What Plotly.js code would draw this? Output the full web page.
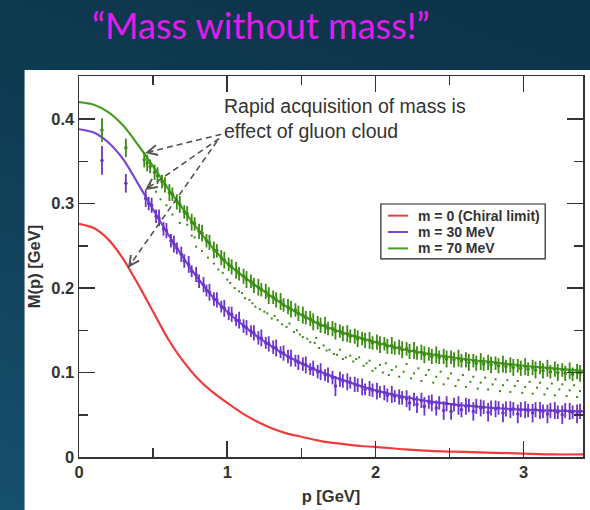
<!DOCTYPE html>
<html>
<head>
<meta charset="utf-8">
<script src="https://cdn.plot.ly/plotly-3.0.1.min.js"></script>
<style>
html,body{margin:0;padding:0;}
body{width:590px;height:510px;overflow:hidden;background:linear-gradient(200deg,#0c3247 0%,#0f3c53 45%,#16506e 100%);}
#chart{width:590px;height:510px;}
</style>
</head>
<body>
<div id="chart"></div>
<script>
// ---- curves (DSE solutions) ----
const curveP = [0,0.1,0.2,0.3,0.4,0.5,0.6,0.7,0.8,0.9,1.0,1.1,1.2,1.3,1.4,1.5,1.6,1.7,1.8,1.9,2.0,2.2,2.4,2.6,2.8,3.0,3.2,3.4];
const chiralM = [0.276,0.271,0.257,0.234,0.204,0.172,0.140,0.114,0.093,0.077,0.064,0.052,0.042,0.034,0.028,0.024,0.020,0.017,0.015,0.013,0.012,0.009,0.007,0.006,0.005,0.004,0.003,0.003];
const m30M = [0.388,0.384,0.372,0.352,0.323,0.293,0.264,0.237,0.212,0.190,0.172,0.157,0.143,0.131,0.120,0.111,0.103,0.096,0.090,0.084,0.079,0.071,0.065,0.061,0.058,0.056,0.055,0.054];
const m70M = [0.420,0.417,0.408,0.392,0.369,0.344,0.318,0.294,0.270,0.248,0.229,0.215,0.202,0.190,0.178,0.168,0.159,0.152,0.146,0.141,0.136,0.127,0.121,0.116,0.112,0.108,0.105,0.102];
const seriesNames = ["m = 0 (Chiral limit)","m = 30 MeV","m = 70 MeV"];

// ---- lattice data, m = 30 MeV ----
const lat30P = [0.155,0.316,0.45,0.47,0.49,0.52,0.54,0.57,0.59,0.62,0.64,0.66,0.69,0.71,0.74,0.76,0.79,0.81,0.84,0.86,0.88,0.91,0.93,0.96,0.98,1.01,1.03,1.06,1.08,1.11,1.13,1.16,1.18,1.21,1.23,1.26,1.28,1.31,1.33,1.36,1.38,1.41,1.43,1.46,1.48,1.51,1.53,1.56,1.58,1.61,1.63,1.66,1.68,1.71,1.73,1.76,1.78,1.81,1.83,1.86,1.88,1.91,1.93,1.96,1.98,2.01,2.03,2.06,2.08,2.11,2.13,2.16,2.18,2.21,2.23,2.26,2.28,2.31,2.33,2.36,2.38,2.41,2.43,2.46,2.48,2.51,2.53,2.56,2.58,2.61,2.63,2.66,2.68,2.71,2.73,2.76,2.78,2.81,2.83,2.86,2.88,2.91,2.93,2.96,2.98,3.01,3.03,3.06,3.08,3.11,3.13,3.16,3.18,3.21,3.23,3.26,3.28,3.31,3.33,3.36,3.38];
const lat30M = [0.351,0.324,0.306,0.300,0.298,0.285,0.283,0.270,0.268,0.256,0.252,0.247,0.240,0.232,0.228,0.220,0.216,0.208,0.204,0.197,0.195,0.187,0.186,0.178,0.176,0.170,0.169,0.162,0.162,0.155,0.153,0.149,0.147,0.141,0.141,0.135,0.134,0.130,0.129,0.124,0.123,0.119,0.117,0.114,0.112,0.110,0.109,0.104,0.105,0.101,0.101,0.097,0.097,0.094,0.084,0.092,0.090,0.089,0.088,0.086,0.085,0.083,0.080,0.081,0.079,0.078,0.077,0.076,0.073,0.074,0.072,0.071,0.070,0.069,0.064,0.068,0.062,0.067,0.060,0.065,0.064,0.058,0.064,0.055,0.063,0.054,0.062,0.061,0.056,0.060,0.061,0.054,0.060,0.058,0.059,0.053,0.058,0.057,0.058,0.052,0.057,0.056,0.057,0.051,0.056,0.056,0.055,0.052,0.056,0.055,0.054,0.051,0.055,0.055,0.053,0.050,0.055,0.054,0.053,0.051,0.054];
const lat30E = [0.017,0.011,0.010,0.008,0.009,0.008,0.010,0.008,0.009,0.008,0.010,0.007,0.009,0.008,0.010,0.007,0.009,0.008,0.009,0.007,0.010,0.008,0.009,0.007,0.010,0.008,0.009,0.007,0.010,0.008,0.009,0.007,0.009,0.008,0.010,0.007,0.009,0.008,0.010,0.007,0.009,0.008,0.010,0.007,0.009,0.008,0.010,0.007,0.009,0.008,0.010,0.007,0.009,0.008,0.012,0.009,0.008,0.010,0.007,0.009,0.008,0.010,0.007,0.009,0.008,0.010,0.007,0.009,0.008,0.010,0.007,0.009,0.008,0.010,0.009,0.008,0.010,0.009,0.011,0.008,0.010,0.009,0.008,0.011,0.009,0.010,0.008,0.011,0.009,0.010,0.008,0.011,0.009,0.010,0.008,0.011,0.009,0.010,0.008,0.011,0.009,0.010,0.008,0.011,0.009,0.010,0.008,0.011,0.009,0.010,0.008,0.011,0.009,0.010,0.008,0.011,0.009,0.010,0.008,0.011,0.009];

// ---- lattice data, m = 70 MeV ----
const lat70P = [0.155,0.316,0.44,0.46,0.48,0.51,0.53,0.56,0.58,0.61,0.63,0.66,0.68,0.71,0.73,0.76,0.78,0.81,0.83,0.86,0.88,0.91,0.93,0.96,0.98,1.01,1.03,1.06,1.08,1.11,1.13,1.16,1.18,1.21,1.23,1.26,1.28,1.31,1.33,1.36,1.38,1.41,1.43,1.46,1.48,1.51,1.53,1.56,1.58,1.61,1.63,1.66,1.68,1.71,1.73,1.76,1.78,1.81,1.83,1.86,1.88,1.91,1.93,1.96,1.98,2.01,2.03,2.06,2.08,2.11,2.13,2.16,2.18,2.21,2.23,2.26,2.28,2.31,2.33,2.36,2.38,2.41,2.43,2.46,2.48,2.51,2.53,2.56,2.58,2.61,2.63,2.66,2.68,2.71,2.73,2.76,2.78,2.81,2.83,2.86,2.88,2.91,2.93,2.96,2.98,3.01,3.03,3.06,3.08,3.11,3.13,3.16,3.18,3.21,3.23,3.26,3.28,3.31,3.33,3.36,3.38];
const lat70M = [0.387,0.366,0.352,0.348,0.344,0.337,0.333,0.326,0.322,0.313,0.311,0.302,0.299,0.290,0.288,0.278,0.276,0.267,0.265,0.256,0.254,0.245,0.244,0.236,0.233,0.228,0.225,0.221,0.217,0.214,0.210,0.208,0.203,0.201,0.198,0.196,0.191,0.189,0.186,0.184,0.180,0.178,0.175,0.174,0.170,0.168,0.165,0.164,0.160,0.159,0.156,0.156,0.152,0.152,0.149,0.149,0.146,0.146,0.143,0.143,0.140,0.140,0.138,0.138,0.135,0.136,0.133,0.134,0.131,0.132,0.129,0.130,0.127,0.128,0.125,0.126,0.123,0.124,0.121,0.122,0.119,0.121,0.118,0.119,0.116,0.118,0.115,0.117,0.114,0.115,0.112,0.114,0.111,0.113,0.110,0.112,0.109,0.111,0.108,0.110,0.107,0.109,0.106,0.108,0.105,0.107,0.104,0.106,0.103,0.106,0.102,0.105,0.101,0.104,0.100,0.103,0.099,0.102,0.098,0.101,0.099];
const lat70E = [0.014,0.011,0.009,0.010,0.008,0.009,0.010,0.008,0.009,0.010,0.008,0.009,0.010,0.008,0.009,0.010,0.008,0.009,0.010,0.008,0.009,0.010,0.008,0.009,0.010,0.008,0.009,0.010,0.008,0.009,0.010,0.008,0.009,0.010,0.008,0.009,0.010,0.008,0.009,0.010,0.008,0.009,0.010,0.008,0.009,0.010,0.008,0.009,0.010,0.008,0.009,0.010,0.008,0.009,0.010,0.008,0.009,0.010,0.008,0.009,0.010,0.008,0.009,0.010,0.008,0.009,0.010,0.008,0.009,0.010,0.008,0.009,0.010,0.008,0.009,0.010,0.008,0.009,0.010,0.008,0.009,0.010,0.008,0.009,0.010,0.008,0.009,0.010,0.008,0.009,0.010,0.008,0.009,0.010,0.008,0.009,0.010,0.008,0.009,0.010,0.008,0.009,0.010,0.008,0.009,0.010,0.008,0.009,0.010,0.008,0.009,0.010,0.008,0.009,0.010,0.008,0.009,0.010,0.008,0.009,0.010];

// ---- second lattice set (dots, no error bars) ----
const dotP = [0.48,0.52,0.55,0.59,0.63,0.68,0.73,0.76,0.78,0.79,0.83,0.87,0.91,0.94,0.97,1.00,1.02,1.05,1.08,1.10,1.12,1.15,1.17,1.19,1.22,1.25,1.27,1.30,1.32,1.34,1.37,1.40,1.42,1.45,1.47,1.49,1.51,1.54,1.56,1.59,1.60,1.62,1.65,1.67,1.69,1.72,1.74,1.76,1.78,1.80,1.83,1.85,1.87,1.89,1.92,1.94,1.96,1.98,2.00,2.03,2.05,2.07,2.09,2.11,2.14,2.16,2.19,2.21,2.24,2.26,2.29,2.31,2.34,2.36,2.39,2.41,2.44,2.46,2.49,2.51,2.54,2.56,2.59,2.61,2.64,2.66,2.69,2.71,2.74,2.76,2.79,2.81,2.84,2.86,2.89,2.91,2.94,2.96,2.99,3.01,3.04,3.06,3.09,3.11,3.14,3.16,3.19,3.21,3.24,3.26,3.29,3.31,3.34,3.36,3.38];
const dotM = [0.323,0.314,0.305,0.298,0.287,0.277,0.275,0.262,0.260,0.249,0.244,0.236,0.229,0.222,0.218,0.210,0.206,0.200,0.196,0.194,0.188,0.186,0.182,0.178,0.175,0.172,0.170,0.164,0.167,0.162,0.157,0.154,0.158,0.148,0.150,0.145,0.142,0.140,0.136,0.135,0.141,0.129,0.132,0.126,0.127,0.122,0.121,0.127,0.116,0.118,0.120,0.113,0.116,0.118,0.108,0.111,0.114,0.102,0.105,0.109,0.100,0.111,0.097,0.103,0.107,0.095,0.101,0.110,0.093,0.099,0.105,0.090,0.097,0.103,0.088,0.095,0.101,0.086,0.093,0.099,0.084,0.091,0.097,0.083,0.089,0.095,0.081,0.088,0.094,0.080,0.086,0.092,0.078,0.085,0.091,0.077,0.084,0.090,0.076,0.083,0.089,0.075,0.082,0.088,0.074,0.081,0.087,0.073,0.080,0.086,0.072,0.079,0.085,0.071,0.078];

const RED = "#f03c3c", PURPLE = "#7b45d6", GREEN = "#46a028";
const PURPLE_D = "#6a35c8", GREEN_D = "#3a8c12";
const curveColors = [RED, PURPLE, GREEN];
const FONT = "Liberation Sans, Arial, sans-serif";

const traces = [
  {x: curveP, y: chiralM, mode: "lines", name: seriesNames[0], line: {color: RED, width: 2.2, shape: "spline", smoothing: 0.8}},
  {x: curveP, y: m30M, mode: "lines", name: seriesNames[1], line: {color: PURPLE, width: 2.2, shape: "spline", smoothing: 0.8}},
  {x: curveP, y: m70M, mode: "lines", name: seriesNames[2], line: {color: GREEN, width: 2.2, shape: "spline", smoothing: 0.8}},
  {x: dotP, y: dotM, mode: "markers", showlegend: false, marker: {color: GREEN_D, size: 2, symbol: "square"}},
  {x: lat30P, y: lat30M, mode: "markers", showlegend: false, marker: {color: PURPLE_D, size: 3.5},
   error_y: {type: "data", array: lat30E, color: PURPLE_D, thickness: 1.8, width: 0}},
  {x: lat70P, y: lat70M, mode: "markers", showlegend: false, marker: {color: GREEN_D, size: 3.5},
   error_y: {type: "data", array: lat70E, color: GREEN_D, thickness: 1.8, width: 0}}
];

const tickFont = {family: FONT, size: 16.5, color: "#333", weight: "bold"};
const axisCommon = {
  showgrid: false, zeroline: false, showline: true, linecolor: "#333", linewidth: 1.5,
  mirror: "ticks", ticks: "inside", ticklen: 16, tickwidth: 1.5, tickcolor: "#333",
  tickfont: tickFont
};

// arrows: tail near "effect", heads at the curves
const arrowTails = [[0.960, 0.382], [0.946, 0.377], [0.932, 0.374]];
const arrowHeads = [[0.446, 0.360], [0.446, 0.316], [0.331, 0.224]];
const arrowDirs = [[7.8, -1.8], [6.5, -4.7], [4.6, -6.6]];

const shapes = [
  {type: "rect", xref: "paper", yref: "paper", x0: -0.108, x1: 1.02, y0: -0.15, y1: 1.016,
   fillcolor: "#ffffff", line: {width: 0}, layer: "below"}
];
const annotations = [
  {xref: "x", yref: "y", x: 0.962, y: 0.416, text: "Rapid acquisition of mass is", showarrow: false,
   xanchor: "left", yanchor: "middle", font: {family: FONT, size: 19.5, color: "#333"}},
  {xref: "x", yref: "y", x: 0.962, y: 0.386, text: "effect of gluon cloud", showarrow: false,
   xanchor: "left", yanchor: "middle", font: {family: FONT, size: 19.5, color: "#333"}}
];
for (let i = 0; i < arrowHeads.length; i++) {
  shapes.push({type: "line", xref: "x", yref: "y", x0: arrowTails[i][0], y0: arrowTails[i][1],
    x1: arrowHeads[i][0], y1: arrowHeads[i][1], line: {color: "#555", width: 1.6, dash: "6px,4px"}});
  annotations.push({xref: "x", yref: "y", x: arrowHeads[i][0], y: arrowHeads[i][1], text: "",
    showarrow: true, arrowhead: 5, arrowsize: 1.4, arrowwidth: 1.4, arrowcolor: "#555",
    ax: arrowDirs[i][0], ay: arrowDirs[i][1]});
}

// hand-drawn legend box (paper coordinates of the plot area)
const legBox = {x0: 0.599, x1: 0.925, y0: 0.520, y1: 0.664};
const legRowsY = [0.6335, 0.5905, 0.5475];
shapes.push({type: "rect", xref: "paper", yref: "paper", x0: legBox.x0, x1: legBox.x1, y0: legBox.y0, y1: legBox.y1,
  fillcolor: "#ffffff", line: {color: "#222", width: 1.2}});
for (let i = 0; i < seriesNames.length; i++) {
  shapes.push({type: "line", xref: "paper", yref: "paper", x0: 0.613, x1: 0.653, y0: legRowsY[i], y1: legRowsY[i],
    line: {color: curveColors[i], width: 2}});
  annotations.push({xref: "paper", yref: "paper", x: 0.668, y: legRowsY[i], text: seriesNames[i], showarrow: false,
    xanchor: "left", yanchor: "middle", font: {family: FONT, size: 14, color: "#333", weight: "bold"}});
}

const layout = {
  width: 590, height: 510, showlegend: false,
  paper_bgcolor: "rgba(0,0,0,0)", plot_bgcolor: "#ffffff",
  margin: {l: 79, r: 7, t: 76, b: 53},
  title: {text: "“Mass without mass!”", x: 0.442, xanchor: "center", y: 0.949, yanchor: "middle",
    font: {family: "Lato, 'Open Sans', sans-serif", size: 36, color: "#e21cf0"}},
  xaxis: Object.assign({}, axisCommon, {range: [0, 3.4], dtick: 1, tick0: 0,
    minor: {ticks: "inside", dtick: 0.5, ticklen: 9, tickwidth: 1.5, tickcolor: "#333"},
    title: {text: "p [GeV]", standoff: 10, font: {family: FONT, size: 16.5, color: "#333", weight: "bold"}}}),
  yaxis: Object.assign({}, axisCommon, {range: [0, 0.451], dtick: 0.1, tick0: 0,
    minor: {ticks: "inside", dtick: 0.05, ticklen: 9, tickwidth: 1.5, tickcolor: "#333"},
    title: {text: "M(p) [GeV]", standoff: 6, font: {family: FONT, size: 16.5, color: "#333", weight: "bold"}}}),
  shapes: shapes,
  annotations: annotations
};

Plotly.newPlot("chart", traces, layout, {displayModeBar: false, staticPlot: true});
</script>
</body>
</html>
